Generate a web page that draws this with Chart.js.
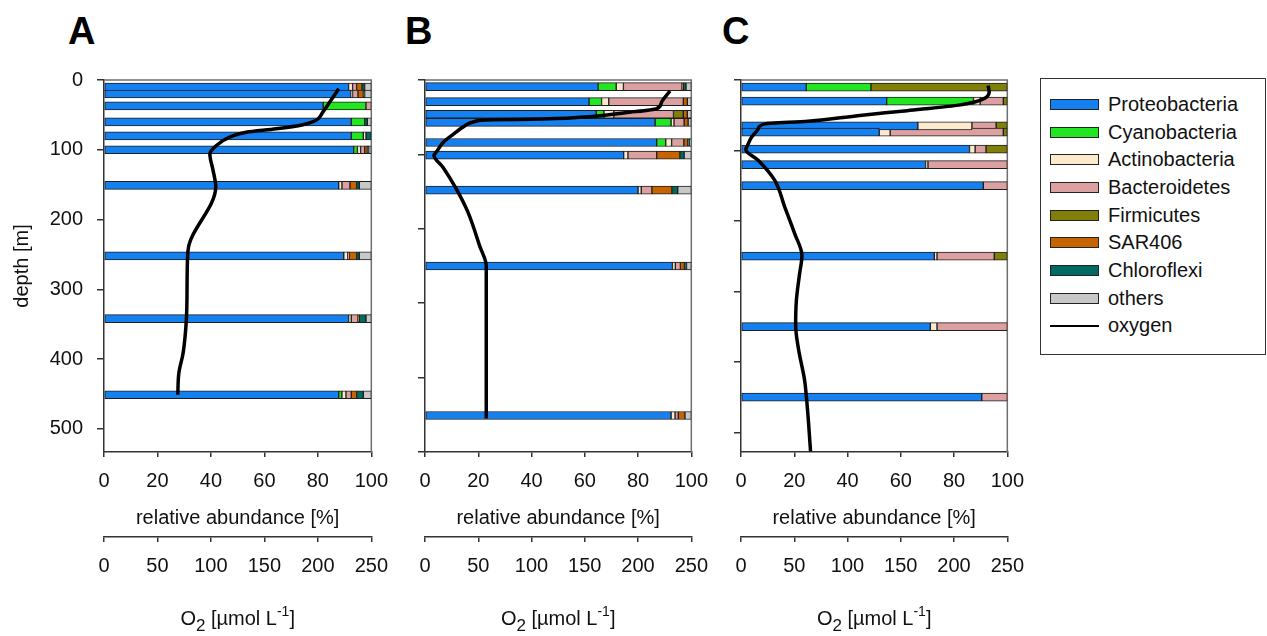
<!DOCTYPE html>
<html>
<head>
<meta charset="utf-8">
<title>Bacterial community composition and oxygen profiles</title>
<script src="https://cdn.jsdelivr.net/npm/chart.js@4.4.1/dist/chart.umd.min.js"></script>
<style>
  html, body { margin: 0; padding: 0; background: #fff; }
  body { width: 1267px; height: 636px; position: relative; overflow: hidden;
         font-family: "Liberation Sans", Arial, sans-serif; color: #111; }
  canvas.panel { position: absolute; top: 0; }
  .letter { position: absolute; font-weight: bold; font-size: 38px; line-height: 38px; color: #000; }
  #legend { position: absolute; left: 1040px; top: 78px; width: 226px; height: 277px;
            border: 1px solid #333; box-sizing: border-box; }
  .item { position: absolute; left: 9px; height: 24px; display: flex; align-items: center;
          font-size: 20px; color: #111; white-space: nowrap; }
  .swatch { width: 47px; height: 9px; border: 1px solid #222; margin-right: 9px; }
  .oxline { width: 49px; height: 2px; background: #000; margin-right: 9px; }
</style>
</head>
<body>
<div class="letter" style="left:68px;top:12px">A</div>
<div class="letter" style="left:405px;top:12px">B</div>
<div class="letter" style="left:722px;top:12px">C</div>

<canvas id="panelA" class="panel" width="400" height="636" style="left:0px"></canvas>
<canvas id="panelB" class="panel" width="340" height="636" style="left:380px"></canvas>
<canvas id="panelC" class="panel" width="336" height="636" style="left:700px"></canvas>

<div id="legend"></div>

<script>
// taxa (stacking order) and their fill colours
const taxa = ['Proteobacteria', 'Cyanobacteria', 'Actinobacteria', 'Bacteroidetes',
              'Firmicutes', 'SAR406', 'Chloroflexi', 'others'];
const taxaColors = ['#1580f0', '#22e622', '#fde9cc', '#dca0a0',
                    '#7f7f0a', '#c86400', '#006a60', '#c8c8c8'];

// ---- station A ----
const depthA  = [10, 20, 37, 60, 80, 100, 151, 252, 342, 451];
const proteoA = [91.5, 92.4, 82, 92.5, 92.5, 93.4, 87.8, 89.7, 91.5, 87.8];
const cyanoA  = [0, 0, 16, 5, 4.5, 1.4, 0, 0, 0, 1.2];
const actinoA = [1.5, 0.6, 0, 0, 1, 1.2, 1.2, 1.5, 1, 1.5];
const bacterA = [1.5, 2, 2, 0, 0, 1.5, 3, 0.5, 2.5, 2];
const firmiA  = [0, 0, 0, 0, 0, 0, 0, 0, 0, 0];
const sarA    = [2, 2, 0, 0, 0, 1, 2.5, 2.8, 0.5, 2];
const chloroA = [1, 0.5, 0, 1, 2, 0.5, 1, 1, 2.5, 2.5];
const otherA  = [2.5, 2.5, 0, 1.5, 0, 1, 4.5, 4.5, 2, 3];
const o2DepthA = [12.6, 32, 46, 58, 64, 70, 75, 82, 94, 106, 129.5, 153, 244, 291, 344, 391, 420, 451];
const o2A      = [219.5, 211, 204.6, 198, 186, 161, 133, 117.5, 105, 99, 102, 104.5, 78.6, 77.7, 77, 74, 70, 69];

// ---- station B ----
const depthB  = [9, 29, 46, 57, 84, 101, 148, 250, 451];
const proteoB = [65, 61.6, 64.3, 86.4, 87, 74.6, 80, 92.9, 92.4];
const cyanoB  = [6.8, 4.7, 2.9, 6, 3.4, 0, 0, 0, 0];
const actinoB = [2.7, 2.7, 3.7, 1.1, 2.2, 1.6, 1.2, 1.1, 1.5];
const bacterB = [22, 28, 22.4, 3.8, 4.6, 10.8, 4, 1.9, 1.2];
const firmiB  = [0, 0, 3.7, 0, 0, 0, 0, 0, 0];
const sarB    = [0.5, 1.5, 1.5, 1.5, 1.5, 8.7, 7.5, 1.5, 2.5];
const chloroB = [1, 0, 0, 0, 0.5, 1.6, 2.2, 0.8, 0];
const otherB  = [2, 1.5, 1.5, 1.2, 0.8, 2.7, 5.1, 1.8, 2.4];
const o2DepthB = [14.8, 30, 38.4, 44, 49, 52.5, 53.5, 56, 62, 73, 84, 97.5, 101, 117.6, 146.7, 178, 223, 250, 455];
const o2B      = [230, 222, 217.6, 188, 157, 110, 64, 46, 37, 26.4, 17, 10.3, 8.4, 17, 29.5, 40.4, 51.3, 57.5, 57.5];

// ---- station C ----
const depthC  = [10, 30, 65, 74, 98, 120, 150, 250, 350, 450];
const proteoC = [24.5, 54.7, 66.4, 51.9, 85.8, 69.3, 91, 72.6, 71.1, 90.4];
const cyanoC  = [24.3, 32.6, 0, 0, 0, 0, 0, 0, 0, 0];
const actinoC = [0, 2.5, 20.3, 4.1, 2.1, 0.9, 0, 1, 2.5, 0];
const bacterC = [0, 8.7, 9.1, 42.5, 4.1, 29.8, 9, 21.5, 26.4, 9.6];
const firmiC  = [51.2, 1.5, 4.2, 1.5, 8, 0, 0, 4.9, 0, 0];
const sarC    = [0, 0, 0, 0, 0, 0, 0, 0, 0, 0];
const chloroC = [0, 0, 0, 0, 0, 0, 0, 0, 0, 0];
const otherC  = [0, 0, 0, 0, 0, 0, 0, 0, 0, 0];
const o2DepthC = [8, 17.5, 29, 36, 43.5, 50.6, 58.6, 62.3, 69.4, 81, 95.5, 98.5, 114, 142.6, 180, 218, 249, 275, 312.6, 348, 383, 426, 463.7, 527];
const o2C      = [232, 233, 224.5, 202.7, 156, 109.4, 62.8, 22.4, 16.1, 10, 5.3, 4.4, 16.1, 31.7, 41, 50.4, 57.2, 55, 52, 51.3, 54.1, 59.7, 62.2, 65.3];

// axis ticks
const depthTicks = [0, 100, 200, 300, 400, 500];
const abundanceTicks = [0, 20, 40, 60, 80, 100];
const o2Ticks = [0, 50, 100, 150, 200, 250];

const FONT = '"Liberation Sans", Arial, sans-serif';
const INK = '#111';
const AXIS = '#333';

// top and right edge of the plot box
const panelFrame = {
  id: 'panelFrame',
  beforeDatasetsDraw(chart) {
    const { ctx, chartArea: a } = chart;
    ctx.save();
    ctx.strokeStyle = '#6e6e6e';
    ctx.lineWidth = 1.5;
    ctx.beginPath();
    ctx.moveTo(a.left, a.top);
    ctx.lineTo(a.right, a.top);
    ctx.lineTo(a.right, a.bottom);
    ctx.stroke();
    ctx.restore();
  }
};

// O2 axis title with subscript / superscript
const o2Title = {
  id: 'o2Title',
  afterDraw(chart) {
    const { ctx, chartArea: a } = chart;
    const parts = [['O', 20, 0], ['2', 17, 6], [' [µmol L', 20, 0], ['-1', 14, -9], [']', 20, 0]];
    ctx.save();
    ctx.fillStyle = INK;
    ctx.textBaseline = 'alphabetic';
    let total = 0;
    parts.forEach(p => { ctx.font = p[1] + 'px ' + FONT; total += ctx.measureText(p[0]).width; });
    let x = (a.left + a.right) / 2 - total / 2;
    const base = chart.scales.x2.bottom - 11;
    parts.forEach(p => {
      ctx.font = p[1] + 'px ' + FONT;
      ctx.fillText(p[0], x, base + p[2]);
      x += ctx.measureText(p[0]).width;
    });
    ctx.restore();
  }
};

function tickAxis(values, extra) {
  return Object.assign({
    type: 'linear',
    offset: false,
    afterBuildTicks: s => { s.ticks = values.map(v => ({ value: v })); },
    grid: { offset: false, drawOnChartArea: false, drawTicks: true, tickLength: 5, color: AXIS, lineWidth: 1.5 },
    border: { display: true, color: AXIS, width: 1.5 }
  }, extra);
}

function buildPanel(canvasId, opt) {
  const series = [opt.proteo, opt.cyano, opt.actino, opt.bacter, opt.firmi, opt.sar, opt.chloro, opt.other];
  const datasets = series.map((vals, k) => ({
    type: 'bar',
    label: taxa[k],
    data: vals.map((v, i) => ({ x: v, y: opt.depth[i] })),
    backgroundColor: taxaColors[k],
    borderColor: '#1e1e1e',
    borderWidth: 1,
    borderSkipped: false,
    barThickness: 8,
    order: 1
  }));
  datasets.push({
    type: 'line',
    label: 'oxygen',
    indexAxis: 'y',
    xAxisID: 'x2',
    yAxisID: 'y',
    data: opt.o2.map((v, i) => ({ x: v, y: opt.o2Depth[i] })),
    borderColor: '#000',
    borderWidth: 3.5,
    pointRadius: 0,
    fill: false,
    cubicInterpolationMode: 'monotone',
    order: 0
  });

  return new Chart(document.getElementById(canvasId), {
    type: 'bar',
    data: { datasets },
    options: {
      indexAxis: 'y',
      responsive: false,
      animation: false,
      devicePixelRatio: 1,
      layout: { padding: { top: 80, right: opt.padRight, bottom: 0, left: 0 } },
      plugins: { legend: { display: false }, tooltip: { enabled: false } },
      scales: {
        y: {
          type: 'linear',
          reverse: true,
          offset: false,
          min: 0,
          max: opt.yMax,
          stacked: true,
          afterBuildTicks: s => { s.ticks = depthTicks.map(v => ({ value: v })); },
          ticks: {
            padding: 14, color: INK, font: { family: FONT, size: 20 },
            callback: v => opt.showDepth ? v : ''
          },
          grid: { offset: false, drawOnChartArea: false, drawTicks: true, tickLength: 7, color: AXIS, lineWidth: 1.5 },
          border: { display: true, color: AXIS, width: 1.5 },
          title: {
            display: opt.showDepth, text: 'depth [m]', color: INK,
            font: { family: FONT, size: 20 }, padding: { top: 10, bottom: 0 }
          },
          afterFit: s => { s.width = opt.yWidth; }
        },
        x: tickAxis(abundanceTicks, {
          position: 'bottom',
          min: 0, max: 100,
          stacked: true,
          weight: 0,
          ticks: { padding: 12, color: INK, font: { family: FONT, size: 20 }, maxRotation: 0 },
          title: {
            display: true, text: 'relative abundance [%]', color: INK,
            font: { family: FONT, size: 20 }, padding: { top: 0, bottom: 7 }
          },
          afterFit: s => { s.height = 85; }
        }),
        x2: tickAxis(o2Ticks, {
          position: 'bottom',
          min: 0, max: 250,
          weight: 1,
          ticks: { padding: 12, color: INK, font: { family: FONT, size: 20 }, maxRotation: 0 },
          title: { display: false },
          afterFit: s => { s.height = 99; }
        })
      }
    },
    plugins: [panelFrame, o2Title]
  });
}

buildPanel('panelA', {
  depth: depthA, proteo: proteoA, cyano: cyanoA, actino: actinoA, bacter: bacterA,
  firmi: firmiA, sar: sarA, chloro: chloroA, other: otherA,
  o2Depth: o2DepthA, o2: o2A, yMax: 533, yWidth: 104, padRight: 28, showDepth: true
});
buildPanel('panelB', {
  depth: depthB, proteo: proteoB, cyano: cyanoB, actino: actinoB, bacter: bacterB,
  firmi: firmiB, sar: sarB, chloro: chloroB, other: otherB,
  o2Depth: o2DepthB, o2: o2B, yMax: 500, yWidth: 45, padRight: 27, showDepth: false
});
buildPanel('panelC', {
  depth: depthC, proteo: proteoC, cyano: cyanoC, actino: actinoC, bacter: bacterC,
  firmi: firmiC, sar: sarC, chloro: chloroC, other: otherC,
  o2Depth: o2DepthC, o2: o2C, yMax: 528, yWidth: 41, padRight: 27, showDepth: false
});

// legend box
const legend = document.getElementById('legend');
taxa.concat(['oxygen']).forEach((name, i) => {
  const row = document.createElement('div');
  row.className = 'item';
  row.style.top = (13.3 + 27.7 * i) + 'px';
  const mark = document.createElement('div');
  if (i < taxa.length) {
    mark.className = 'swatch';
    mark.style.background = taxaColors[i];
  } else {
    mark.className = 'oxline';
  }
  row.appendChild(mark);
  row.appendChild(document.createTextNode(name));
  legend.appendChild(row);
});
</script>
</body>
</html>
